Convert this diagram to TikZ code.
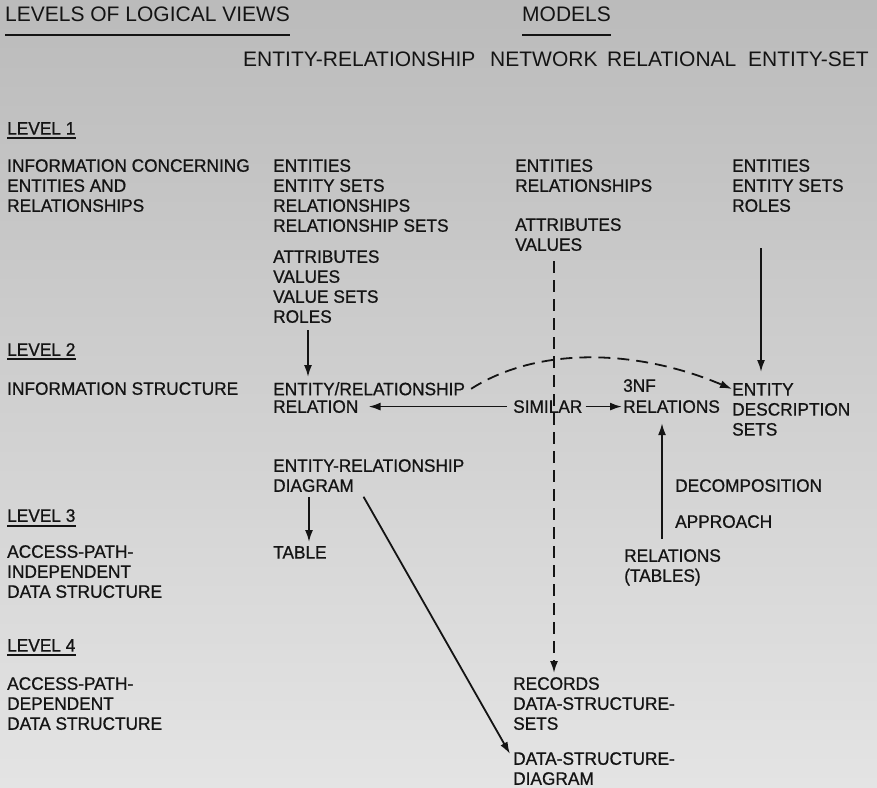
\documentclass[tikz,border=0pt]{standalone}
\usepackage{fontspec}
\usetikzlibrary{arrows.meta}
\newfontfamily\lettering{Liberation Sans}[FakeStretch=0.96, FakeBold=0.8]
\newfontfamily\headlettering{Liberation Sans}
\definecolor{ink}{HTML}{141414}
\definecolor{paperTop}{HTML}{BBBBBB}
\definecolor{paperBot}{HTML}{E4E4E4}
\tikzset{
	txt/.style={anchor=north west, inner sep=0pt, align=left, text=ink, font=\lettering\fontsize{18}{20}\selectfont},
	hdr/.style={txt, font=\headlettering\fontsize{21}{24}\selectfont},
	arr/.style={-{Latex[length=12pt,width=8pt]}, line width=1.8pt, draw=ink},
	darr/.style={arr, dash pattern=on 12pt off 7pt},
	uline/.style={line width=1.6pt, draw=ink}
}
\begin{document}
\begin{tikzpicture}[x=1pt, y=-1pt]
	\shade[top color=paperTop, bottom color=paperBot] (0,0) rectangle (877,787);
	\useasboundingbox (0,0) rectangle (877,787);

	\node[hdr] (hdrLevels) at (5,7) {LEVELS OF LOGICAL VIEWS};
	\node[hdr] (hdrModels) at (522,7) {MODELS};
	\node[hdr] (mER) at (243,52) {ENTITY-RELATIONSHIP};
	\node[hdr] (mNet) at (490,52) {NETWORK};
	\node[hdr] (mRel) at (607,52) {RELATIONAL};
	\node[hdr] (mES) at (748,52) {ENTITY-SET};

	\node[txt] (lvlOne) at (7,122) {LEVEL 1};
	\node[txt] (lvlOneInfo) at (7,159) {INFORMATION CONCERNING\\ENTITIES AND\\RELATIONSHIPS};
	\node[txt] (lvlTwo) at (7,343) {LEVEL 2};
	\node[txt] (lvlTwoInfo) at (7,382) {INFORMATION STRUCTURE};
	\node[txt] (lvlThree) at (7,509) {LEVEL 3};
	\node[txt] (lvlThreeInfo) at (7,545) {ACCESS-PATH-\\INDEPENDENT\\DATA STRUCTURE};
	\node[txt] (lvlFour) at (7,639) {LEVEL 4};
	\node[txt] (lvlFourInfo) at (7,677) {ACCESS-PATH-\\DEPENDENT\\DATA STRUCTURE};

	\node[txt] (erEnt) at (273,159) {ENTITIES\\ENTITY SETS\\RELATIONSHIPS\\RELATIONSHIP SETS};
	\node[txt] (erAttr) at (273,250) {ATTRIBUTES\\VALUES\\VALUE SETS\\ROLES};
	\node[txt] (erStruct) at (273,382) {ENTITY/RELATIONSHIP};
	\node[txt] (erRel) at (273,400) {RELATION};
	\node[txt] (erDiagTop) at (273,459) {ENTITY-RELATIONSHIP};
	\node[txt] (erDiag) at (273,479) {DIAGRAM};
	\node[txt] (erTable) at (273,546) {TABLE};

	\node[txt] (netEnt) at (515,159) {ENTITIES\\RELATIONSHIPS};
	\node[txt] (netAttr) at (515,218) {ATTRIBUTES\\VALUES};
	\node[txt] (similar) at (513,400) {SIMILAR};
	\node[txt] (netRec) at (513,677) {RECORDS\\DATA-STRUCTURE-\\SETS};
	\node[txt] (netDiag) at (513,752) {DATA-STRUCTURE-\\DIAGRAM};

	\node[txt] (relNF) at (623,379) {3NF};
	\node[txt] (relRel) at (623,400) {RELATIONS};
	\node[txt] (relDecomp) at (675,479) {DECOMPOSITION};
	\node[txt] (relApproach) at (675,515) {APPROACH};
	\node[txt] (relTab) at (624,549) {RELATIONS\\(TABLES)};

	\node[txt] (esEnt) at (732,159) {ENTITIES\\ENTITY SETS\\ROLES};
	\node[txt] (esDesc) at (732,383) {ENTITY\\DESCRIPTION\\SETS};

	\foreach \n/\gap in {hdrLevels/13, hdrModels/13, lvlOne/3.5, lvlTwo/3.5, lvlThree/4, lvlFour/3.5}
		\draw[uline] ([yshift=-\gap pt]\n.base west) -- ([yshift=-\gap pt]\n.base east);

	\draw[arr, shorten <=7pt, shorten >=5pt] ([xshift=35pt]erAttr.south west) -- ([xshift=35pt]erStruct.north west);
	\draw[arr, shorten <=36pt, shorten >=11pt] ([xshift=29pt]esEnt.south west) -- ([xshift=29pt]esDesc.north west);
	\draw[darr, shorten <=10pt, shorten >=4pt] ([xshift=39pt]netAttr.south west) -- ([xshift=41pt]netRec.north west);
	\draw[darr] ([xshift=6pt]erStruct.east) .. controls (540,345) and (640,350) .. ([yshift=-6pt]esDesc.north west);
	\draw[arr, shorten <=6pt, shorten >=10pt] (similar.west) -- (erRel.east);
	\draw[arr, shorten <=3pt, shorten >=1pt] (similar.east) -- (relRel.west);
	\draw[arr, shorten <=10pt, shorten >=10pt] ([xshift=38pt]relTab.north west) -- ([xshift=39pt]relRel.south west);
	\draw[arr, shorten <=5pt, shorten >=4pt] ([xshift=36pt]erDiag.south west) -- ([xshift=36pt]erTable.north west);
	\draw[arr, shorten <=3pt] ([xshift=8pt,yshift=-2pt]erDiag.south east) -- ([xshift=-3pt,yshift=-2pt]netDiag.north west);
\end{tikzpicture}
\end{document}
